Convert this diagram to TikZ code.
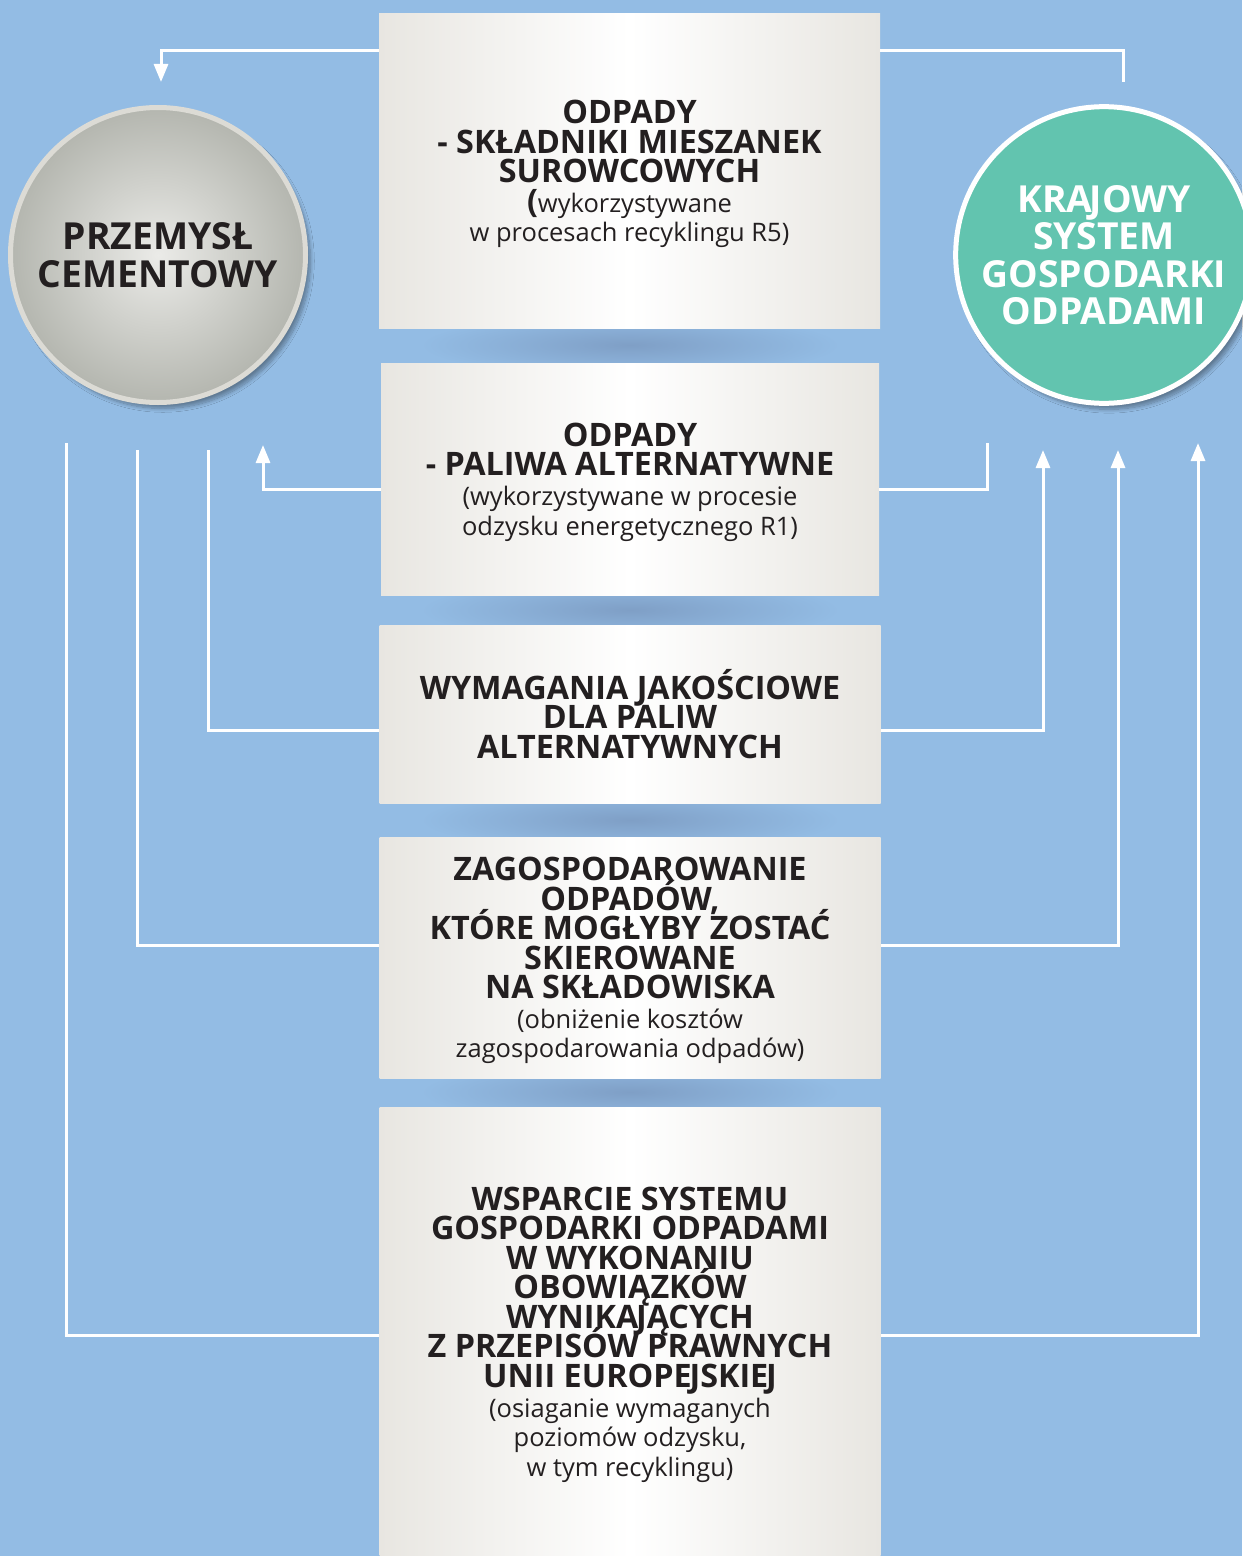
\documentclass[tikz,border=0pt]{standalone}
\usepackage{fontspec}
\setmainfont{Open Sans}
\usetikzlibrary{arrows.meta,shadows.blur}

\definecolor{tlo}{HTML}{93BCE4}
\definecolor{szary}{HTML}{E8E6E1}
\definecolor{tekst}{HTML}{231F20}
\definecolor{turkus}{HTML}{62C4AF}
\definecolor{cien}{HTML}{7F9FC6}
\definecolor{obwod}{HTML}{DCDBD5}
\definecolor{jasny}{HTML}{EBEBE8}
\definecolor{ciemny}{HTML}{B4B6AF}

\newcommand{\drobny}{\fontsize{14.5}{16.8}\selectfont\mdseries}
\newcommand{\ciasno}{\lineskiplimit=-20pt\relax}
\newcommand{\kj}{\kern-0.07em J}

\begin{document}
\begin{tikzpicture}[
	blok/.style = {rectangle, minimum width = 10.02cm, left color = szary, right color = szary, middle color = white, text = tekst, align = center, font = \fontsize{18.4}{16.8}\selectfont\bfseries\ciasno},
	kolo/.style = {circle, minimum size = 5.9cm, line width = 0.1cm, align = center, text depth = -0.2cm, font = \fontsize{21.2}{21.2}\selectfont\bfseries\ciasno, blur shadow = {shadow xshift = 0.1cm, shadow yshift = -0.12cm, shadow opacity = 35, shadow blur steps = 10}},
	lacze/.style = {white, line width = 0.06cm},
	grot/.style = {-{Triangle[width = 0.28cm, length = 0.36cm]}}
]
	 \useasboundingbox (0, 0) rectangle (24.84, -31.12);
	 \fill[tlo] (0, 0) rectangle (24.84, -31.12);
	 
	 % cienie pod blokami
	 \foreach \y in {-6.9, -12.2, -16.4, -21.84}
	 \shade[inner color = cien, outer color = tlo] (12.6, \y) ellipse (4.2 and 0.62);
	 
	 \node[blok, minimum height = 6.28cm, text depth = -0.08cm] (odpady) at (12.59, -3.42) {ODPADY\\- SKŁADNIKI MIESZANEK\\SUROWCOWYCH\\(\drobny wykorzystywane\\\drobny w procesach recyklingu R5)};
	 
	 \node[blok, minimum width = 9.96cm, minimum height = 4.64cm, text depth = -0.04cm] (paliwa) at (12.6, -9.58) {ODPADY\\- PALIWA ALTERNATYWNE\\\drobny (wykorzystywane w procesie\\\drobny odzysku energetycznego R1)};
	 
	 \node[blok, minimum height = 3.56cm] (wymagania) at (12.6, -14.28) {WYMAGANIA JAKOŚCIOWE\\DLA PALIW\\ALTERNATYWNYCH};
	 
	 \node[blok, minimum height = 4.82cm, text depth = -0.08cm] (zagosp) at (12.6, -19.15) {ZAGOSPODAROWANIE\\ODPADÓW,\\KTÓRE MOGŁYBY ZOSTAĆ\\SKIEROWANE\\NA SKŁADOWISKA\\\drobny (obniżenie kosztów\\\drobny zagospodarowania odpadów)};
	 
	 \node[blok, minimum height = 8.98cm, text depth = -0.16cm] (wsparcie) at (12.6, -26.63) {WSPARCIE SYSTEMU\\GOSPODARKI ODPADAMI\\W WYKONANIU\\OBOWIĄZKÓW\\WYNIKA\kj ĄCYCH\\Z PRZEPISÓW PRAWNYCH\\UNII EUROPE\kj SKIE\kj\\\drobny (osiaganie wymaganych\\\drobny poziomów odzysku,\\\drobny w tym recyklingu)};
	 
	 \node[kolo, draw = obwod, inner color = jasny, outer color = ciemny, text = tekst] (cement) at (3.16, -5.1) {PRZEMYSŁ\\CEMENTOWY};
	 
	 \node[kolo, draw = white, fill = turkus, text = white] (ksgo) at (22.08, -5.1) {KRA\kj OWY\\SYSTEM\\GOSPODARKI\\ODPADAMI};
	 
	 \coordinate (c1) at (3.22, -1.64);
	 \coordinate (k1) at (22.46, -1.64);
	 \coordinate (c2) at (5.26, -8.9);
	 \coordinate (k2) at (19.74, -8.86);
	 \coordinate (c3) at (4.16, -9.0);
	 \coordinate (k3) at (20.86, -9.0);
	 \coordinate (c4) at (2.74, -9.0);
	 \coordinate (k4) at (22.36, -9.0);
	 \coordinate (c5) at (1.32, -8.86);
	 \coordinate (k5) at (23.96, -8.86);
	 
	 \draw[lacze, grot] ([yshift = -0.74cm] odpady.north west) -| (c1);
	 \draw[lacze] ([yshift = -0.74cm] odpady.north east) -| (k1);
	 
	 \draw[lacze, grot] ([yshift = -0.2cm] paliwa.west) -| (c2);
	 \draw[lacze] ([yshift = -0.2cm] paliwa.east) -| (k2);
	 
	 \draw[lacze] ([yshift = -0.32cm] wymagania.west) -| (c3);
	 \draw[lacze, grot] ([yshift = -0.32cm] wymagania.east) -| (k3);
	 
	 \draw[lacze] ([yshift = 0.25cm] zagosp.west) -| (c4);
	 \draw[lacze, grot] ([yshift = 0.25cm] zagosp.east) -| (k4);
	 
	 \draw[lacze] ([yshift = -0.07cm] wsparcie.west) -| (c5);
	 \draw[lacze, grot] ([yshift = -0.07cm] wsparcie.east) -| (k5);
\end{tikzpicture}
\end{document}
